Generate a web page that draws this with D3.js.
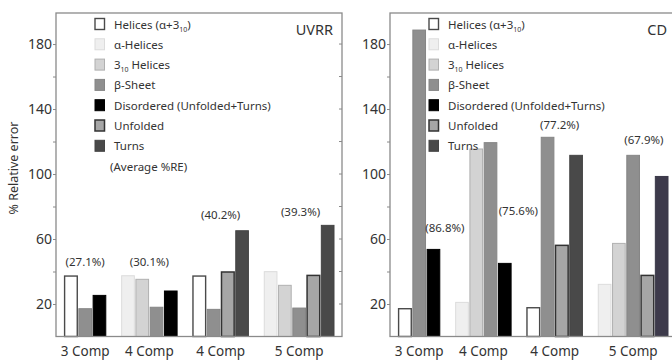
<!DOCTYPE html>
<html><head><meta charset="utf-8">
<script src="https://cdn.jsdelivr.net/npm/d3@7"></script>
<style>
html,body{margin:0;padding:0;background:#fff;}
svg{display:block;font-family:"Noto Sans",sans-serif;}
</style></head>
<body>
<svg id="chart" width="672" height="362"></svg>
<script>
// ---------------- data ----------------
const categories = ["3 Comp", "4 Comp", "4 Comp", "5 Comp"];
const seriesKeys = ["helices", "alpha", "h310", "beta", "disordered", "unfolded", "turns"];
const groupSeries = [
  ["helices", "beta", "disordered"],
  ["alpha", "h310", "beta", "disordered"],
  ["helices", "beta", "unfolded", "turns"],
  ["alpha", "h310", "beta", "unfolded", "turns"]
];
const uvrrValues = [
  [37.2, 17.1, 25.3],
  [37.4, 35.2, 18.0, 28.0],
  [37.2, 16.7, 39.7, 65.1],
  [39.9, 31.5, 17.5, 37.6, 68.4]
];
const cdValues = [
  [17.1, 188.6, 53.6],
  [21.0, 115.4, 119.3, 45.0],
  [17.7, 122.6, 56.1, 111.5],
  [32.1, 57.3, 111.5, 37.6, 98.5]
];
const uvrrAverage = [27.1, 30.1, 40.2, 39.3];
const cdAverage = [86.8, 75.6, 77.2, 67.9];
const yTickValues = [20, 40, 60, 80, 100, 120, 140, 160, 180];
const yTickLabels = [20, 60, 100, 140, 180];
const panelTitles = ["UVRR", "CD"];

// ---------------- layout / style (not data) ----------------
const seriesStyle = {
  helices:    {fill: "#ffffff", stroke: "#4a4a4a", sw: 1.4},
  alpha:      {fill: "#efefef", stroke: "#dcdcdc", sw: 1},
  h310:       {fill: "#d3d3d3", stroke: "#b0b0b0", sw: 1},
  beta:       {fill: "#8f8f8f", stroke: "#858585", sw: 1},
  disordered: {fill: "#000000", stroke: "#000000", sw: 1},
  unfolded:   {fill: "#a6a6a6", stroke: "#333333", sw: 1.5},
  turns:      {fill: "#494949", stroke: "#444444", sw: 1}
};
const legendLines = [
  ["helices", [["Helices (α+3", 0], ["10", 1], [")", 0]]],
  ["alpha", [["α-Helices", 0]]],
  ["h310", [["3", 0], ["10", 1], [" Helices", 0]]],
  ["beta", [["β-Sheet", 0]]],
  ["disordered", [["Disordered (Unfolded+Turns)", 0]]],
  ["unfolded", [["Unfolded", 0]]],
  ["turns", [["Turns", 0]]]
];
// annotation anchors in slot units / value units
const uvrrLabelAt = {u: [1.5, 6.0, 11.0, 16.6], v: [43.4, 43.4, 72.3, 74.2]};
const cdLabelAt   = {u: [3.3, 8.45, 11.35, 17.25], v: [64.3, 74.8, 127.7, 118.5]};

const svg = d3.select("#chart");
const plotTop = 13, plotBottom = 336.5, panelW = 286;
const y = d3.scaleLinear().domain([0, 199.1]).range([plotBottom, plotTop]);

// slot positions: groups of bars with one empty slot between them
const slots = [];
let s = 0;
groupSeries.forEach((g, gi) => {
  g.forEach((k, i) => { slots.push({g: gi, i: i, key: k, slot: s}); s++; });
  if (gi < groupSeries.length - 1) s++;
});
const nSlots = s; // 19
const x = d3.scaleLinear().domain([0, nSlots]).range([7.8, 278.8]);
const slotW = x(1) - x(0);

function drawPanel(ox, values, avg, labelAt, title, cdMode) {
  const p = svg.append("g").attr("transform", `translate(${ox},0)`);

  // bars
  p.selectAll("rect.bar").data(slots).join("rect")
    .attr("class", "bar")
    .attr("x", d => x(d.slot) + 0.8)
    .attr("width", slotW - 1.6)
    .attr("y", d => y(values[d.g][d.i]))
    .attr("height", d => y(0) - y(values[d.g][d.i]))
    .attr("fill", d => (cdMode && d.g === 3 && d.key === "turns") ? "#3d3a4b" : seriesStyle[d.key].fill)
    .attr("stroke", d => (cdMode && d.g === 3 && d.key === "turns") ? "#3a3848" : seriesStyle[d.key].stroke)
    .attr("stroke-width", d => seriesStyle[d.key].sw);

  // frame
  p.append("rect").attr("x", 0).attr("y", plotTop).attr("width", panelW).attr("height", plotBottom - plotTop)
    .attr("fill", "none").attr("stroke", "#8a8a8a").attr("stroke-width", 1.3);

  // left axis
  const ax = p.append("g").call(d3.axisLeft(y).tickValues(yTickValues).tickSize(3)
    .tickFormat(d => yTickLabels.includes(d) ? d : ""));
  ax.select(".domain").remove();
  ax.selectAll(".tick line").attr("stroke", "#8a8a8a");
  ax.selectAll(".tick text").attr("font-size", 14).attr("fill", "#333")
    .attr("font-family", "Noto Sans").attr("x", -4);
  // right inner ticks
  p.selectAll("line.rt").data(yTickValues).join("line")
    .attr("class", "rt")
    .attr("x1", panelW - 3).attr("x2", panelW)
    .attr("y1", d => y(d)).attr("y2", d => y(d)).attr("stroke", "#8a8a8a");

  // category labels
  p.selectAll("text.cat").data(categories).join("text")
    .attr("class", "cat")
    .attr("x", (d, i) => {
      const ss = slots.filter(q => q.g === i);
      return (x(ss[0].slot) + x(ss[ss.length - 1].slot + 1)) / 2;
    })
    .attr("y", 356).attr("text-anchor", "middle")
    .attr("font-size", 13.5).attr("fill", "#333").text(d => d);

  // average annotations
  p.selectAll("text.avg").data(avg).join("text")
    .attr("class", "avg")
    .attr("x", (d, i) => x(labelAt.u[i])).attr("y", (d, i) => y(labelAt.v[i]))
    .attr("text-anchor", "middle").attr("font-size", 11.5).attr("fill", "#333")
    .text(d => `(${d.toFixed(1)}%)`);

  // legend
  const lg = p.append("g");
  const rowY = i => 24 + i * 20.3;
  legendLines.forEach(([k, parts], i) => {
    const st = seriesStyle[k];
    lg.append("rect").attr("x", 39).attr("y", rowY(i) - 5.5).attr("width", 9.5).attr("height", 11)
      .attr("fill", st.fill).attr("stroke", st.stroke).attr("stroke-width", st.sw);
    const t = lg.append("text").attr("x", 58).attr("y", rowY(i) + 4.5)
      .attr("font-size", 11.5).attr("fill", "#333");
    let prevSub = false;
    parts.forEach(([txt, sub]) => {
      const tp = t.append("tspan").text(txt);
      if (sub) { tp.attr("font-size", 7).attr("dy", 3); }
      else if (prevSub) { tp.attr("dy", -3); }
      prevSub = !!sub;
    });
  });
  if (!cdMode) {
    lg.append("text").attr("x", 54).attr("y", rowY(7) + 4.5).attr("font-size", 11.5)
      .attr("fill", "#333").text("(Average %RE)");
  }

  // panel title
  p.append("text").attr("x", panelW - 9).attr("y", 35).attr("text-anchor", "end")
    .attr("font-size", 14.5).attr("fill", "#333").text(title);
}

drawPanel(56, uvrrValues, uvrrAverage, uvrrLabelAt, panelTitles[0], false);
drawPanel(390, cdValues, cdAverage, cdLabelAt, panelTitles[1], true);

// y-axis title
svg.append("text").attr("transform", "translate(18,168) rotate(-90)")
  .attr("text-anchor", "middle").attr("font-size", 12.5).attr("fill", "#333")
  .text("% Relative error");
</script>
</body></html>
